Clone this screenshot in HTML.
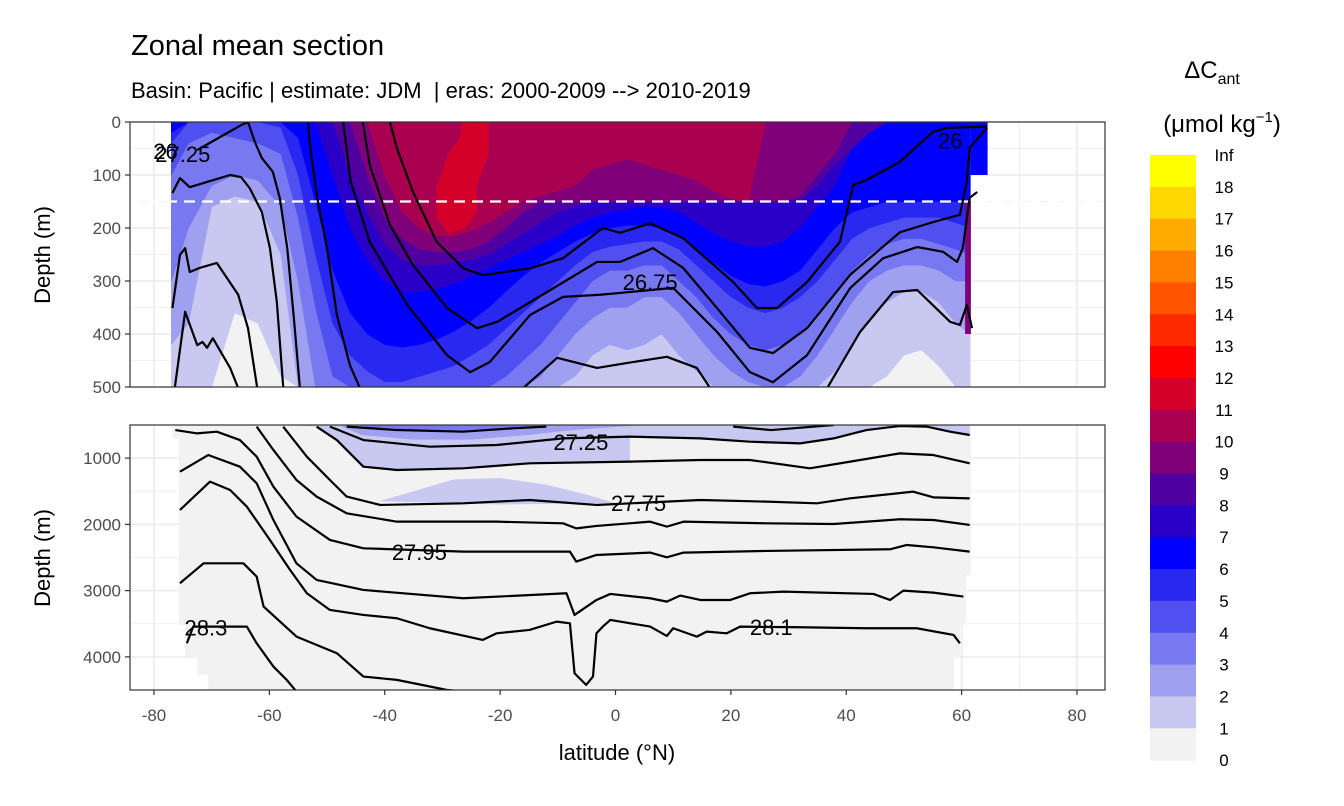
<!DOCTYPE html>
<html><head><meta charset="utf-8">
<style>
html,body{margin:0;padding:0;background:#fff;}
svg{display:block;font-family:"Liberation Sans",Arial,sans-serif;}
</style></head>
<body>
<svg id="chart" width="1344" height="806" viewBox="0 0 1344 806" xmlns="http://www.w3.org/2000/svg">
<defs>
<clipPath id="clipTop"><rect x="130" y="122" width="975" height="265"/></clipPath>
<clipPath id="clipBot"><rect x="130" y="425" width="975" height="265"/></clipPath>
</defs>
<text x="131" y="55" font-size="29" fill="#000">Zonal mean section</text>
<text x="131" y="98" font-size="22" fill="#000" style="white-space:pre">Basin: Pacific | estimate: JDM &#160;| eras: 2000-2009 --&gt; 2010-2019</text>
<g id="topPanel"></g>
<g id="botPanel"></g>
<g id="axes"></g>
<text transform="translate(50,255) rotate(-90)" text-anchor="middle" font-size="22">Depth (m)</text>
<text transform="translate(50,558) rotate(-90)" text-anchor="middle" font-size="22">Depth (m)</text>
<text x="617" y="760" text-anchor="middle" font-size="22">latitude (°N)</text>
<g id="legend">
<text x="1212" y="78" text-anchor="middle" font-size="24">ΔC<tspan font-size="16" dy="6">ant</tspan></text>
<text x="1222" y="132" text-anchor="middle" font-size="24">(μmol kg<tspan font-size="15" dy="-10">−1</tspan><tspan dy="10">)</tspan></text>
</g>
</svg>
<script>
// ---------- data ----------
const colorLevels = ["Inf","18","17","16","15","14","13","12","11","10","9","8","7","6","5","4","3","2","1","0"];
const levelColors = ["#ffff00","#ffd700","#ffaa00","#ff8000","#ff5500","#ff2a00","#ff0000","#d4002a","#aa0050","#80007a","#5000a0","#2a00c8","#0000ff","#2828f0","#5050f0","#7878f0","#a0a0f0","#c8c8f0","#f2f2f2"];
const xTicks = [-80,-60,-40,-20,0,20,40,60,80];
const yTicksTop = [0,100,200,300,400,500];
const yTicksBot = [1000,2000,3000,4000];
const latGrid = [-77,-74,-70,-66,-62,-58,-55,-52,-49,-46,-43,-40,-37,-34,-31,-28,-25,-22,-19,-16,-13,-10,-7,-4,-1,2,5,8,11,14,17,20,23,26,29,32,35,38,41,44,47,50,53,56,59,61.5];
const d1 = [500,500,500,360,380,480,500,500,500,500,500,500,500,500,500,500,500,500,500,500,500,500,500,500,500,500,500,500,500,500,500,500,500,500,500,500,500,500,500,500,480,440,430,460,500,500];
const d2 = [420,380,160,140,150,250,500,500,500,500,500,500,500,500,500,500,500,500,500,500,500,500,480,440,420,430,420,400,440,470,500,500,500,500,500,500,500,470,420,370,340,320,320,340,380,400];
const d3 = [300,200,120,100,110,160,300,500,500,500,500,500,500,500,500,500,500,500,500,500,480,440,400,370,350,350,330,330,360,400,440,470,490,500,500,480,440,390,340,300,280,270,270,280,300,300];
const d4 = [100,40,20,30,40,60,180,350,480,500,500,500,500,500,500,500,500,500,480,450,420,380,340,300,280,280,270,270,300,330,370,400,420,430,420,400,360,320,280,250,230,220,220,230,240,250];
const d5 = [40,0,0,0,0,10,100,250,380,440,470,490,490,480,470,460,440,420,390,360,330,300,270,245,235,230,225,225,240,270,300,330,350,360,350,330,300,260,220,200,190,180,180,180,190,200];
const d6 = [20,0,0,0,0,0,30,150,280,360,400,420,425,420,410,395,375,350,320,290,265,245,225,210,200,195,195,200,215,240,265,290,305,310,300,280,240,200,170,160,150,150,150,150,150,150];
const d7 = [0,0,0,0,0,0,0,0,100,200,260,300,320,320,315,305,290,275,260,245,230,215,195,180,170,165,160,160,170,190,210,225,235,235,225,200,160,120,50,20,0,0,0,0,0,0];
const d8 = [0,0,0,0,0,0,0,0,0,100,170,230,260,270,270,265,260,250,230,210,190,170,160,150,150,150,150,150,150,150,150,150,150,150,150,150,120,80,50,20,0,0,0,0,0,0];
const d9 = [0,0,0,0,0,0,0,0,0,0,100,180,220,240,245,245,240,225,200,170,150,150,150,150,150,150,150,150,150,150,150,150,150,150,150,140,100,60,0,0,0,0,0,0,0,0];
const d10 = [0,0,0,0,0,0,0,0,0,0,0,100,170,200,215,215,205,190,170,150,140,130,120,90,80,70,80,90,100,110,130,145,150,0,0,0,0,0,0,0,0,0,0,0,0,0];
const redLat = [-26.5,-22,-22,-24,-24,-26,-29,-31,-31,-29,-27];
const redDepth = [0,0,60,120,170,200,210,180,120,60,30];
const topLines = [
 [[-76.8,134],[-75.5,106],[-73.8,123],[-70.8,113],[-66.8,100],[-64.9,104],[-63.4,125],[-61.3,170],[-59.9,238],[-58.7,340],[-57.6,500]],
 [[-76.8,351],[-75.5,251],[-74.6,238],[-73.8,283],[-72,275],[-69.1,266],[-65.4,326],[-63.7,389],[-62.1,502]],
 [[-76.4,502],[-74.6,358],[-72.5,421],[-71.6,415],[-70.8,426],[-69.8,408],[-66.8,464],[-65.4,502]],
 [[-72.5,53],[-68,25],[-64.9,6],[-63.7,0],[-62.5,38],[-61.3,68],[-59.4,94],[-58.2,143],[-56.9,238],[-55.8,364],[-54.7,502]],
 [[-53.3,0],[-52.9,49],[-51.7,143],[-50,238],[-48.3,364],[-46,460],[-44.3,502]],
 [[-47.2,0],[-45.9,113],[-42.6,226],[-36.1,345],[-29.2,440],[-25.2,472],[-21.8,453],[-14.8,364],[-9.1,330],[-2.7,326],[0.3,323],[10,313],[17.6,396],[23.3,472],[27.3,491],[33.2,440],[40.7,313],[46.4,257],[52.3,236],[56.8,245],[59.2,264],[60.2,238],[61.4,143],[62.7,132]],
 [[-43.8,0],[-42.6,81],[-39.1,194],[-35.1,270],[-29.2,351],[-24,389],[-20.5,377],[-11.9,321],[-3.2,264],[0.8,264],[6.5,238],[11.7,275],[17.6,351],[23.3,426],[27.3,436],[33.2,389],[40.7,288],[49.3,208],[55,189],[59.7,175],[60.9,113],[61.4,49],[64.4,11]],
 [[-39.1,0],[-37.9,49],[-35.1,132],[-31,226],[-26.4,276],[-23,289],[-14.8,276],[-9.1,257],[-2.2,200],[0.8,209],[6,191],[11.7,219],[20.4,302],[24.5,351],[28,351],[33.2,302],[38.9,226],[41.2,119],[43.6,109],[49.3,75],[55,19],[57.5,11],[64.4,9]],
 [[-16,502],[-10.1,445],[-3.2,464],[3,453],[8.9,443],[14.1,464],[16.4,502]],
 [[36.7,502],[42.4,396],[48.1,321],[52.3,317],[58,377],[59.7,383],[60.9,345],[61.8,389]]
];
const topLabels = [["27.25",-75,60],["26",-78,55],["26.75",6,302],["26",58,35]];
const botDataLat = [-76.8,61.6,61.6,60.8,60.8,59.7,59.7,58.7,58.7,-70.6,-70.6,-72.5,-72.5,-74.6,-74.6,-75.7,-75.7,-76.8];
const botDataDepth = [500,500,2760,2760,3520,3520,4020,4020,4500,4500,4270,4270,4020,4020,3520,3520,700,700];
const botLines = [
 [[-46.6,525],[-37.9,576],[-26.4,601],[-17.8,550],[-12,525]],
 [[20.4,525],[27,576],[37.8,500]],
 [[-49.5,525],[-43.7,727],[-32.2,827],[-20.6,802],[-9.1,702],[2.5,676],[14.7,702],[23.3,752],[32,777],[37.8,702],[43.5,576],[49.3,515],[54,525],[58,601],[61.4,651]],
 [[-51.8,525],[-48.3,727],[-43.7,1129],[-37.9,1179],[-26.4,1154],[-14.9,1078],[2.5,1053],[14.7,1028],[23.3,1028],[33.7,1154],[40.7,1053],[49.3,928],[55.1,953],[61.4,1078]],
 [[-57.6,525],[-53.5,978],[-49.5,1330],[-46.6,1581],[-40.8,1707],[-26.4,1682],[-14.9,1632],[-3.3,1707],[14.7,1632],[26.2,1657],[34.9,1682],[40.7,1607],[51.6,1506],[55.1,1592],[61.4,1607]],
 [[-62.2,525],[-59.3,877],[-55.3,1330],[-51.8,1581],[-46.6,1833],[-37.9,1959],[-20.6,1959],[-9.1,1984],[-6.8,2060],[-3.3,2024],[6,1959],[8.9,2034],[11.8,1959],[26.2,1984],[37.8,1994],[49.3,1923],[55.1,1934],[61.4,2009]],
 [[-76.3,576],[-72.6,626],[-69.1,601],[-65.1,727],[-62.2,978],[-59.3,1431],[-55.3,1883],[-49.5,2235],[-43.7,2361],[-26.4,2411],[-7.9,2411],[-6.8,2562],[-3.3,2462],[6,2426],[8.9,2497],[11.8,2426],[26.2,2401],[47.6,2376],[50.5,2311],[55.1,2346],[61.4,2411]],
 [[-75.5,1204],[-70.6,953],[-65.1,1129],[-62.2,1380],[-59.3,1934],[-55.3,2588],[-51.8,2839],[-43.7,2990],[-26.4,3115],[-8.5,3040],[-7.1,3367],[-3.3,3141],[-0.9,3050],[6,3115],[8.9,3166],[11.2,3075],[14.7,3141],[19.9,3141],[23.3,3040],[29.1,3015],[44.7,3050],[47.6,3141],[49.9,3000],[55.1,3030],[60.3,3090]],
 [[-75.5,1783],[-70.3,1355],[-66.8,1481],[-63.9,1733],[-59.9,2235],[-56.4,2688],[-53.5,3040],[-49.5,3292],[-43.7,3367],[-37.9,3417],[-32.2,3568],[-23,3744],[-20.6,3644],[-14.9,3593],[-10.2,3468],[-7.9,3493],[-7.1,4247],[-5.1,4423],[-3.9,4297],[-3.3,3644],[-2.2,3543],[-0.9,3442],[6,3543],[8.9,3684],[10,3568],[14.1,3694],[15.8,3619],[19.3,3644],[21.6,3543],[32,3553],[43.5,3568],[52.2,3568],[58.6,3669],[59.7,3795]],
 [[-75.5,2889],[-71.4,2588],[-64.5,2588],[-62.2,2789],[-61,3241],[-55.3,3694],[-48.3,3945],[-43.7,4297],[-37.9,4347],[-29.3,4498],[-26.4,4523]],
 [[-74.3,3795],[-73.2,3543],[-63.9,3543],[-62.2,3795],[-59.3,4146],[-57,4347],[-55.3,4523]]
];
const botLabels = [["27.25",-6,760],["27.75",4,1680],["27.95",-34,2420],["28.1",27,3550],["28.3",-71,3560]];
const botLav1 = [[-57,500],[-51.8,525],[-48.3,727],[-43.7,1129],[-37.9,1179],[-26.4,1154],[-14.9,1078],[2.5,1053],[2.5,676],[14.7,702],[23.3,752],[32,777],[37.8,702],[43.5,576],[49.3,515],[54,525],[58,601],[61.4,651],[61.4,500]];
const botLav2 = [[-48,500],[-44,650],[-35,720],[-25,720],[-15,650],[-10,600],[-5,560],[0,530],[5,500]];
const botLav3 = [[-45,500],[-40,560],[-30,600],[-20,570],[-15,520],[-12,500]];
const botBlob = [[-41,1650],[-35,1500],[-28,1320],[-20,1300],[-12,1400],[-5,1550],[0,1680],[-20,1700]];

// ---------- scales ----------
const X = lat => 615.5 + lat * 5.769;
const YT = d => 122 + d * 0.53;
const YB = d => 425 + (d - 500) * 0.06625;
const NS = "http://www.w3.org/2000/svg";
function mk(tag, attrs, parent){ const e=document.createElementNS(NS,tag); for(const k in attrs) e.setAttribute(k,attrs[k]); parent.appendChild(e); return e; }
const panelTop = document.getElementById('topPanel');
const panelBot = document.getElementById('botPanel');
const axesG = document.getElementById('axes');

function grid(panel, yScale, majors, minors, y0, y1){
  mk('rect',{x:130,y:y0,width:975,height:y1-y0,fill:'#fff'},panel);
  for(let v=-70; v<=90; v+=20){ if(X(v)>130&&X(v)<1105) mk('line',{x1:X(v),x2:X(v),y1:y0,y2:y1,stroke:'#ebebeb','stroke-width':0.8},panel); }
  minors.forEach(d=>{ mk('line',{x1:130,x2:1105,y1:yScale(d),y2:yScale(d),stroke:'#ebebeb','stroke-width':0.8},panel); });
  xTicks.forEach(v=>{ mk('line',{x1:X(v),x2:X(v),y1:y0,y2:y1,stroke:'#ebebeb','stroke-width':1.6},panel); });
  majors.forEach(d=>{ mk('line',{x1:130,x2:1105,y1:yScale(d),y2:yScale(d),stroke:'#ebebeb','stroke-width':1.6},panel); });
}
grid(panelTop, YT, yTicksTop, [50,150,250,350,450], 122, 387);
grid(panelBot, YB, yTicksBot, [1500,2500,3500], 425, 690);

// ---------- top panel fills ----------
const gTop = mk('g',{'clip-path':'url(#clipTop)'},panelTop);
const baseRect = mk('rect',{x:X(-77),y:YT(0),width:X(61.5)-X(-77),height:YT(500)-YT(0),fill:'#f2f2f2'},gTop);


const strip = mk('rect',{x:X(61.5),y:YT(0),width:X(64.5)-X(61.5),height:YT(100)-YT(0),fill:'#0000ff'},gTop);


const layers = [d1,d2,d3,d4,d5,d6,d7,d8,d9,d10];
const layerColors = ["#c8c8f0","#a0a0f0","#7878f0","#5050f0","#2828f0","#0000ff","#2a00c8","#5000a0","#80007a","#aa0050"];
layers.forEach((D,k)=>{
  let p = 'M'+X(latGrid[0])+','+YT(0);
  latGrid.forEach((lat,i)=>{ p += ' L'+X(lat)+','+YT(D[i]); });
  p += ' L'+X(latGrid[latGrid.length-1])+','+YT(0)+' Z';
  const el = mk('path',{d:p,fill:layerColors[k],stroke:layerColors[k],'stroke-width':0.5},gTop);
  
  
});
{
  let p='M'+redLat.map((l,i)=>X(l)+','+YT(redDepth[i])).join(' L')+' Z';
  const el = mk('path',{d:p,fill:'#d4002a'},gTop);
  
  
}
const col = mk('rect',{x:X(60.6),y:YT(150),width:X(61.6)-X(60.6),height:YT(400)-YT(150),fill:'#80007a'},gTop);


const dash = mk('line',{x1:130,x2:1105,y1:YT(150),y2:YT(150),stroke:'#fff','stroke-width':2.2,'stroke-dasharray':'11 7'},gTop);


topLines.forEach((ln,i)=>{
  const el = mk('polyline',{points:ln.map(p=>X(p[0])+','+YT(p[1])).join(' '),fill:'none',stroke:'#000','stroke-width':2.2,'stroke-linejoin':'round'},gTop);
  
  
});
topLabels.forEach(l=>{
  const t = mk('text',{x:X(l[1]),y:YT(l[2])+8,'text-anchor':'middle','font-size':22,fill:'#000'},gTop);
  t.textContent=l[0];
  
  
});

// ---------- bottom panel ----------
const gBot = mk('g',{'clip-path':'url(#clipBot)'},panelBot);
function poly(pts, fill, name){
  const el = mk('path',{d:'M'+pts.map(p=>X(p[0])+','+YB(p[1])).join(' L')+' Z',fill:fill},gBot);
  
  
}
poly(botDataLat.map((l,i)=>[l,botDataDepth[i]]),'#f2f2f2','bottom-data-region');
poly(botLav1,'#c8c8f0','fill-level-1-bottom');
poly(botLav2,'#a0a0f0','fill-level-2-bottom');
poly(botLav3,'#7878f0','fill-level-3-bottom');
poly(botBlob,'#c8c8f0','fill-blob-bottom');
botLines.forEach((ln,i)=>{
  const el = mk('polyline',{points:ln.map(p=>X(p[0])+','+YB(p[1])).join(' '),fill:'none',stroke:'#000','stroke-width':2.2,'stroke-linejoin':'round'},gBot);
  
  
});
botLabels.forEach(l=>{
  const t = mk('text',{x:X(l[1]),y:YB(l[2])+8,'text-anchor':'middle','font-size':22,fill:'#000'},gBot);
  t.textContent=l[0];
  
  
});

// ---------- axes ----------
[[122,387],[425,690]].forEach((r,i)=>{
  const b = mk('rect',{x:130,y:r[0],width:975,height:r[1]-r[0],fill:'none',stroke:'#333','stroke-width':1.2},axesG);
  
  
});
yTicksTop.forEach(d=>{
  mk('line',{x1:125,x2:130,y1:YT(d),y2:YT(d),stroke:'#333','stroke-width':1.2},axesG);
  const t=mk('text',{x:121,y:YT(d)+6,'text-anchor':'end','font-size':17,fill:'#4d4d4d'},axesG);
  t.textContent=d;
  
  
});
yTicksBot.forEach(d=>{
  mk('line',{x1:125,x2:130,y1:YB(d),y2:YB(d),stroke:'#333','stroke-width':1.2},axesG);
  const t=mk('text',{x:121,y:YB(d)+6,'text-anchor':'end','font-size':17,fill:'#4d4d4d'},axesG);
  t.textContent=d;
  
  
});
xTicks.forEach(v=>{
  mk('line',{x1:X(v),x2:X(v),y1:690,y2:695,stroke:'#333','stroke-width':1.2},axesG);
  const t=mk('text',{x:X(v),y:721,'text-anchor':'middle','font-size':17,fill:'#4d4d4d'},axesG);
  t.textContent=v;
  
  
});

// ---------- legend ----------
const leg = document.getElementById('legend');
const barTop=155, step=31.85;
levelColors.forEach((c,i)=>{
  const r=mk('rect',{x:1150,y:barTop+i*step,width:46,height:step+0.5,fill:c},leg);
  
  
});
colorLevels.forEach((l,i)=>{
  const t=mk('text',{x:1224,y:barTop+i*step+6,'text-anchor':'middle','font-size':17,fill:'#000'},leg);
  t.textContent=l;
  
  
});
</script>
</body></html>
